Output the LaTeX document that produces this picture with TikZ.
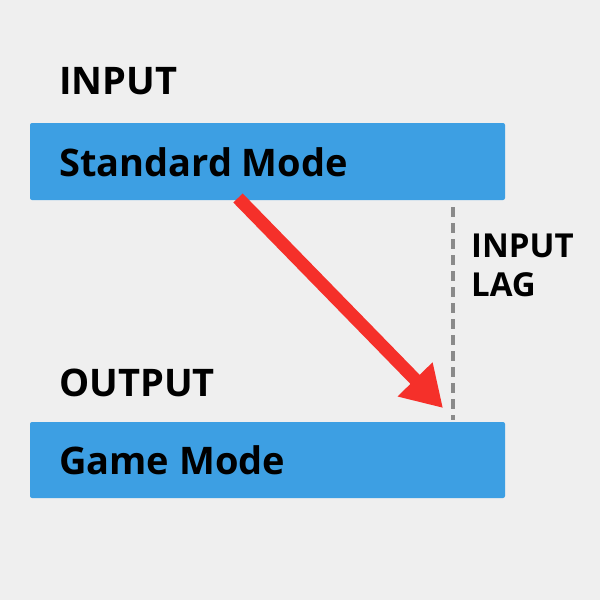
\documentclass[tikz,border=0pt]{standalone}
\usepackage{fontspec}
\setmainfont{Open Sans}
\usetikzlibrary{arrows.meta}
\definecolor{bg}{HTML}{EFEFEF}
\definecolor{barblue}{HTML}{3D9FE3}
\definecolor{arrred}{HTML}{F5302A}
\definecolor{dashgray}{HTML}{8A8A8A}
\tikzset{bar/.style={fill=barblue,draw=none,rounded corners=2pt},
 lbl/.style={anchor=west,inner sep=0,font=\fontsize{38}{40}\selectfont\bfseries},
 small/.style={anchor=west,inner sep=0,align=left,font=\fontsize{33}{39}\selectfont\bfseries}}
\begin{document}
\begin{tikzpicture}[x=1pt,y=-1pt]
\fill[bg] (0,0) rectangle (600,600);
\useasboundingbox (0,0) rectangle (600,600);
\fill[bar] (30,123) rectangle (505,200);
\fill[bar] (30,422) rectangle (505,498);
\node[lbl] (in) at (59,81) {INPUT};
\node[lbl] (sm) at (59,162) {Standard Mode};
\node[lbl] (out) at (59,383) {OUTPUT};
\node[lbl] (gm) at (59,460) {Game Mode};
\node[small] (lag) at (471,265) {INPUT\\LAG};
\coordinate (d1) at (453,207); \coordinate (d2) at (453,420);
\draw[dashgray,line width=3.5pt,dash pattern=on 10pt off 6pt] (d1) -- (d2);
\coordinate (a1) at (238,198); \coordinate (a2) at (443,408);
\draw[arrred,line width=13pt,-{Triangle[length=40pt,width=46pt]}] (a1) -- (a2);
\end{tikzpicture}
\end{document}
